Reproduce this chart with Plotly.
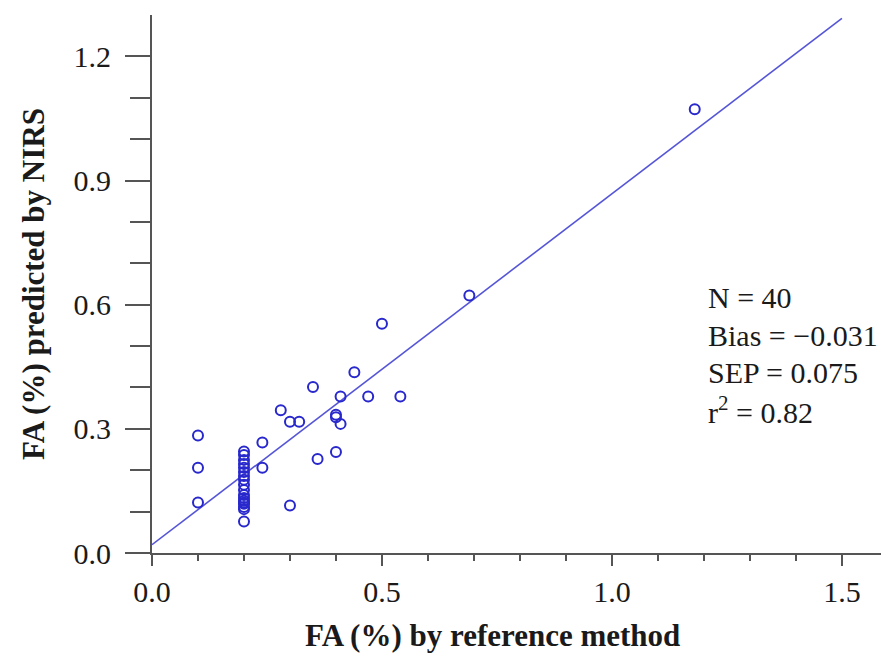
import plotly.graph_objects as go

# Data
ref_x = [0.10, 0.10, 0.10,
         0.20, 0.20, 0.20, 0.20, 0.20, 0.20, 0.20, 0.20, 0.20,
         0.20, 0.20, 0.20, 0.20, 0.20, 0.20, 0.20, 0.20, 0.20,
         0.24, 0.24, 0.28, 0.30, 0.32, 0.30, 0.35, 0.36, 0.40,
         0.40, 0.41, 0.40, 0.41, 0.44, 0.47, 0.54, 0.50, 0.69, 1.18]
pred_y = [0.284, 0.206, 0.122,
          0.245, 0.237, 0.225, 0.215, 0.206, 0.196, 0.186, 0.177, 0.165,
          0.152, 0.140, 0.133, 0.126, 0.122, 0.119, 0.111, 0.106, 0.076,
          0.267, 0.206, 0.345, 0.317, 0.317, 0.115, 0.401, 0.227, 0.334,
          0.328, 0.312, 0.244, 0.378, 0.437, 0.378, 0.378, 0.554, 0.622, 1.072]

fit_intercept = 0.02
fit_slope = 0.848
fit_x = [0.0, 1.5]
fit_y = [fit_intercept + fit_slope * v for v in fit_x]

x_ticks = [0.0, 0.5, 1.0, 1.5]
x_tick_labels = ["0.0", "0.5", "1.0", "1.5"]
y_ticks = [0.0, 0.3, 0.6, 0.9, 1.2]
y_tick_labels = ["0.0", "0.3", "0.6", "0.9", "1.2"]

stats_lines = ["N = 40", "Bias = \u22120.031", "SEP = 0.075", "r<sup>2</sup> = 0.82"]

FONT = "Liberation Serif, serif"
AXIS_COLOR = "#555555"
TEXT_COLOR = "#1a1a1a"

fig = go.Figure()
fig.add_trace(go.Scatter(
    x=fit_x, y=fit_y, mode="lines",
    line=dict(color="rgb(85,85,215)", width=1.6),
    showlegend=False, hoverinfo="skip"))
fig.add_trace(go.Scatter(
    x=ref_x, y=pred_y, mode="markers",
    marker=dict(symbol="circle-open", size=10, color="rgb(40,40,205)",
                line=dict(width=2, color="rgb(40,40,205)")),
    showlegend=False))

fig.update_layout(
    width=881, height=655,
    margin=dict(l=152, r=0, t=15, b=102),
    paper_bgcolor="white", plot_bgcolor="white",
    font=dict(family=FONT, size=29, color=TEXT_COLOR),
)
fig.update_xaxes(
    range=[0, 1.585], showgrid=False, zeroline=False,
    showline=True, linecolor=AXIS_COLOR, linewidth=2,
    ticks="outside", ticklen=11, tickwidth=2, tickcolor=AXIS_COLOR,
    tickvals=x_ticks, ticktext=x_tick_labels,
    tickfont=dict(family=FONT, size=30, color=TEXT_COLOR),
    minor=dict(dtick=0.1, ticks="outside", ticklen=6, tickwidth=2,
               tickcolor=AXIS_COLOR, showgrid=False),
)
fig.update_yaxes(
    range=[0, 1.3], showgrid=False, zeroline=False,
    showline=True, linecolor=AXIS_COLOR, linewidth=2,
    ticks="outside", ticklen=25, tickwidth=2, tickcolor=AXIS_COLOR,
    tickvals=y_ticks, ticktext=y_tick_labels,
    ticklabelstandoff=8,
    tickfont=dict(family=FONT, size=30, color=TEXT_COLOR),
    minor=dict(tickmode="array", tickvals=[0.1, 0.2, 0.4, 0.5, 0.7, 0.8, 1.0, 1.1],
               ticks="outside", ticklen=20, tickwidth=2,
               tickcolor=AXIS_COLOR, showgrid=False),
)

# axis titles
fig.add_annotation(text="<b>FA (%) by reference method</b>",
                   xref="x", yref="paper", x=0.74, y=0, yshift=-82,
                   showarrow=False, font=dict(family=FONT, size=31, color=TEXT_COLOR),
                   xanchor="center", yanchor="middle")
fig.add_annotation(text="<b>FA (%) predicted by NIRS</b>",
                   xref="paper", yref="paper", x=0, y=0.5, xshift=-119,
                   textangle=-90, showarrow=False,
                   font=dict(family=FONT, size=31, color=TEXT_COLOR),
                   xanchor="center", yanchor="middle")

# statistics
stats_y_px = [297, 335, 372, 410]
for line, ypx in zip(stats_lines, stats_y_px):
    fig.add_annotation(text=line, xref="paper", yref="paper",
                       x=(706 - 152) / 729, y=(553 - ypx) / 538,
                       xanchor="left", yanchor="middle", showarrow=False,
                       font=dict(family=FONT, size=30, color=TEXT_COLOR))

fig.write_html("out.html")
